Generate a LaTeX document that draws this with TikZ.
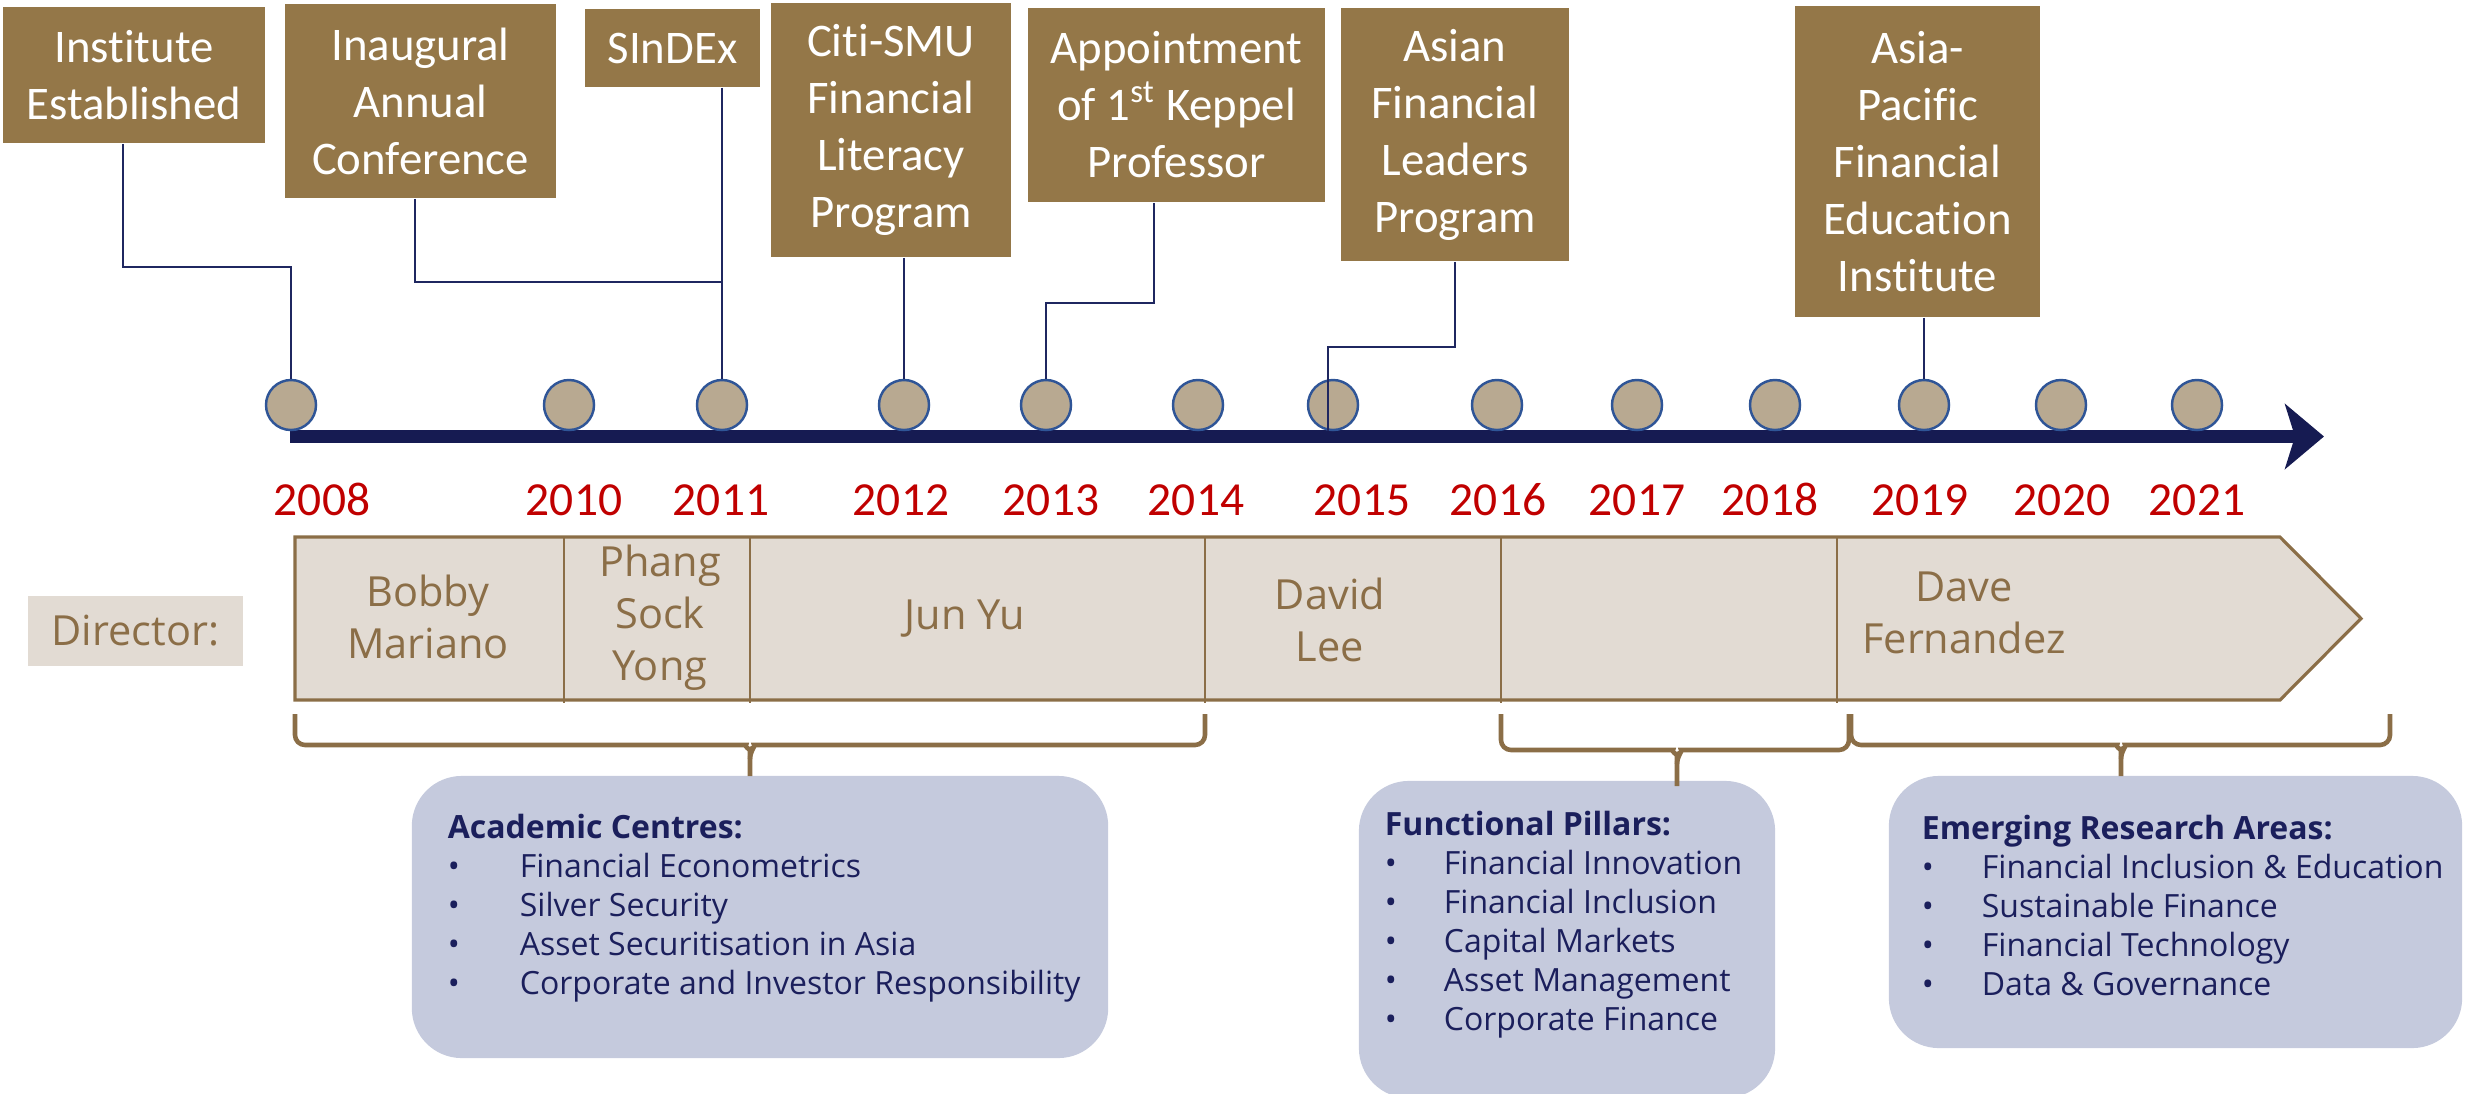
\documentclass[tikz,border=0pt]{standalone}
\usepackage{fontspec}
\setmainfont{Open Sans}
\newfontfamily\carlito[Ligatures={NoCommon,NoContextual}, Contextuals=NoAlternate]{Carlito}
\usetikzlibrary{arrows.meta, positioning}
\definecolor{mgold}{HTML}{947748}
\definecolor{mnavy}{HTML}{161B52}
\definecolor{mline}{HTML}{1F2760}
\definecolor{mdotfill}{HTML}{B8A991}
\definecolor{mdotline}{HTML}{2F5597}
\definecolor{mred}{HTML}{C00000}
\definecolor{mband}{HTML}{E2DBD3}
\definecolor{mbrown}{HTML}{8B6E47}
\definecolor{mlav}{HTML}{C5CADD}
\definecolor{mtext}{HTML}{1B1F5C}
\newcommand{\eventfont}{\carlito\fontsize{13.3pt}{16.2pt}\selectfont}
\newcommand{\yearfont}{\carlito\fontsize{13.5pt}{16pt}\selectfont}
\newcommand{\personfont}{\fontsize{11.8pt}{14.8pt}\selectfont}
\newcommand{\listfont}{\fontsize{9.1pt}{11.1pt}\selectfont}
\newcommand{\bul}[2][0.72cm]{\makebox[#1][l]{\textbullet}#2}
\tikzstyle{event} = [rectangle, fill=mgold, text=white, align=center, inner sep=0pt, font=\eventfont]
\tikzstyle{dot} = [circle, draw=mdotline, fill=mdotfill, line width=0.7pt, minimum size=0.5cm, inner sep=0pt]
\tikzstyle{year} = [text=mred, font=\yearfont, anchor=base, inner sep=0pt]
\tikzstyle{link} = [draw=mline, line width=0.5pt]
\tikzstyle{timeline} = [draw=mnavy, line width=0.13cm, -{Stealth[length=0.39cm, width=0.65cm, inset=0.1cm]}]
\tikzstyle{band} = [draw=mbrown, fill=mband, line width=0.9pt]
\tikzstyle{divider} = [draw=mbrown, line width=0.35pt]
\tikzstyle{person} = [text=mbrown, font=\personfont, align=center, inner sep=0pt]
\tikzstyle{bracket} = [draw=mbrown, line width=1.3pt, rounded corners=0.1cm]
\tikzstyle{area} = [rectangle, rounded corners=0.5cm, fill=mlav, inner sep=0pt]
\tikzstyle{list} = [text=mtext, font=\listfont, align=left, anchor=north west, inner sep=0pt]

\begin{document}
\begin{tikzpicture}[x=0.01cm, y=-0.01cm]
  \useasboundingbox (0,0) rectangle (2478,1093);
  % milestones
  \node (inst) [event, minimum width=2.62cm, minimum height=1.36cm] at (134,75) {Institute\\Established};
  \node (conf) [event, minimum width=2.71cm, minimum height=1.94cm] at (420.5,101) {Inaugural\\Annual\\Conference};
  \node (sindex) [event, minimum width=1.75cm, minimum height=0.78cm] at (672.5,48) {SInDEx};
  \node (citi) [event, minimum width=2.40cm, minimum height=2.54cm] at (891,130) {Citi-SMU\\Financial\\Literacy\\Program};
  \node (keppel) [event, minimum width=2.97cm, minimum height=1.94cm] at (1176.5,105) {Appointment\\of 1\textsuperscript{st} Keppel\\Professor};
  \node (leaders) [event, minimum width=2.28cm, minimum height=2.53cm] at (1455,134.5) {Asian\\Financial\\Leaders\\Program};
  \node (apfei) [event, minimum width=2.45cm, minimum height=3.11cm] at (1917.5,161.5) {Asia-\\Pacific\\Financial\\Education\\Institute};
  % time line
  \coordinate (tlstart) at (290,436.5);
  \coordinate (tlend) at (2324,436.5);
  \draw [timeline] (tlstart) -- (tlend);
  \foreach \yr/\cx/\lx in {2008/291/322, 2010/569/574, 2011/722/721, 2012/904/901, 2013/1046/1051, 2014/1198/1196, 2015/1333/1362, 2016/1497/1498, 2017/1637/1637, 2018/1775/1770, 2019/1924/1920, 2020/2061/2062, 2021/2197/2197}
  {
    \node (c\yr) [dot] at (\cx,405) {};
    \node (y\yr) [year] at (\lx,515) {\yr};
  }
  \draw [link] ([xshift=-0.11cm]inst.south) -- ++(0,123) -| (c2008.north);
  \draw [link] ([xshift=-0.055cm]conf.south) -- ++(0,83) -| (c2011.north);
  \draw [link] (sindex.south -| c2011.north) -- (c2011.north);
  \draw [link] (citi.south -| c2012.north) -- (c2012.north);
  \draw [link] ([xshift=-0.225cm]keppel.south) -- ++(0,100) -| (c2013.north);
  \draw [link] (leaders.south) -- ++(0,85) -| ([xshift=-0.05cm]c2015.south);
  \draw [link] (apfei.south -| c2019.north) -- (c2019.north);
  % directors
  \node (dirlabel) [person, fill=mband, minimum width=2.14cm, minimum height=0.70cm] at (135.5,631) {Director:};
  \draw [band] (295,537) -- (2280,537) -- (2361,618.5) -- (2280,700) -- (295,700) -- cycle;
  \foreach \x in {564,750,1205,1501,1837}
    \draw [divider] (\x,537) -- (\x,703);
  \node (bobby) [person] at (428,617) {Bobby\\Mariano};
  \node (phang) [person] at (660,618) {Phang\\Sock\\Yong};
  \node (junyu) [person] at (965,619) {Jun Yu};
  \node (david) [person] at (1330,620) {David\\Lee};
  \node (dave) [person] at (1964,613) {Dave\\Fernandez};
  % research areas
  \node (acad) [area, minimum width=6.96cm, minimum height=2.82cm] at (760,917) {};
  \node (pillars) [area, minimum width=4.16cm, minimum height=3.17cm] at (1567,939.5) {};
  \node (emerging) [area, minimum width=5.73cm, minimum height=2.72cm] at (2175.5,912) {};
  \node (acadlist) [list, below right=0.38cm and 0.36cm of acad.north west] {\textbf{Academic Centres:}\\
    \bul{Financial Econometrics}\\
    \bul{Silver Security}\\
    \bul{Asset Securitisation in Asia}\\
    \bul{Corporate and Investor Responsibility}};
  \node (pillarslist) [list, below right=0.30cm and 0.26cm of pillars.north west] {\textbf{Functional Pillars:}\\
    \bul[0.59cm]{Financial Innovation}\\
    \bul[0.59cm]{Financial Inclusion}\\
    \bul[0.59cm]{Capital Markets}\\
    \bul[0.59cm]{Asset Management}\\
    \bul[0.59cm]{Corporate Finance}};
  \node (emerginglist) [list, below right=0.39cm and 0.33cm of emerging.north west] {\textbf{Emerging Research Areas:}\\
    \bul[0.60cm]{Financial Inclusion \& Education}\\
    \bul[0.60cm]{Sustainable Finance}\\
    \bul[0.60cm]{Financial Technology}\\
    \bul[0.60cm]{Data \& Governance}};
  % brackets
  \draw [bracket] (295,714) |- (736,745) to[out=0,in=90] (750,759) -- (750,776);
  \draw [bracket] (1205,714) |- (764,745) to[out=180,in=90] (750,759);
  \draw [bracket] (1501,714) |- (1663,750) to[out=0,in=90] (1677,764) -- (1677,786);
  \draw [bracket] (1849,714) |- (1691,750) to[out=180,in=90] (1677,764);
  \draw [bracket] (1851,714) |- (2107,745) to[out=0,in=90] (2121,759) -- (2121,776);
  \draw [bracket] (2390,714) |- (2135,745) to[out=180,in=90] (2121,759);
\end{tikzpicture}
\end{document}
